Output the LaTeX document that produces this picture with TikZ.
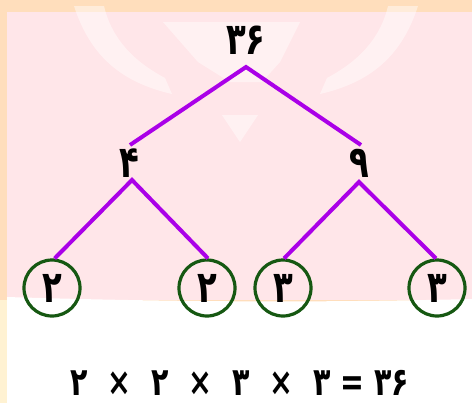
\documentclass[tikz,border=0pt]{standalone}
\usepackage{fontspec}
\usepackage{graphicx}
\newfontfamily\farsi[Script=Arabic]{DejaVu Sans}
\TeXXeTstate=1
\usetikzlibrary{positioning}
\definecolor{banafsh}{RGB}{170,0,232}
\definecolor{sabz}{RGB}{22,88,18}
\definecolor{holo}{RGB}{255,222,188}
\definecolor{zard}{RGB}{255,242,210}
\definecolor{soorati}{RGB}{255,230,233}
\newcommand{\raqam}[1]{\scalebox{0.95}[1.3]{#1}}
\tikzset{
  adad/.style={font=\farsi\bfseries\fontsize{17}{17}\selectfont,inner sep=0pt},
  shakhe/.style={draw=banafsh,line width=2pt},
  dayere/.style={circle,draw=sabz,line width=1.6pt,minimum size=28pt,inner sep=0pt,
                 font=\farsi\bfseries\fontsize{17}{17}\selectfont},
  neshan/.style={white,opacity=.45},
}

\begin{document}
\begin{tikzpicture}[x=0.5pt,y=-0.5pt]
  % zamine
  \fill[holo] (0,0) rectangle (472,403);
  \fill[zard] (0,300) rectangle (7,403);
  \fill[soorati] (7,12) rectangle (472,300);
  \fill[white] (7,297) .. controls (200,303) and (350,302) .. (472,299) -- (472,403) -- (7,403) -- cycle;
  % neshane
  \fill[neshan] (74,6) .. controls (90,55) and (120,82) .. (172,94) -- (165,78)
     .. controls (135,62) and (112,40) .. (104,6) -- cycle;
  \fill[neshan] (418,6) .. controls (402,55) and (372,82) .. (320,94) -- (327,78)
     .. controls (357,62) and (380,40) .. (388,6) -- cycle;
  \fill[neshan] (163,22) -- (300,22) -- (280,62) -- (262,82) -- (230,82) -- (198,62) -- cycle;
  \fill[neshan] (222,115) -- (258,115) -- (240,142) -- cycle;

  % derakht
  \node[adad] (n36) at (246,40) {\raqam{۳۶}};
  \coordinate (r0) at (246,67);
  \coordinate (r1) at (130,145);
  \coordinate (r2) at (361,145);
  \draw[shakhe] (r1) -- (r0) -- (r2);

  \node[adad] (n4) at (129,163) {\raqam{۴}};
  \node[adad] (n9) at (359,163) {\raqam{۹}};
  \coordinate (c4) at (132,180);
  \coordinate (c9) at (359,182);

  \node[dayere] (a1) at (52,288) {\raqam{۲}};
  \node[dayere] (a2) at (207,288) {\raqam{۲}};
  \node[dayere] (b1) at (283,288) {\raqam{۳}};
  \node[dayere] (b2) at (437,288) {\raqam{۳}};

  \draw[shakhe] (a1.85) -- (c4) -- (a2.88);
  \draw[shakhe] (b1.88) -- (c9) -- (b2.92);

  \node[adad,font=\farsi\bfseries\fontsize{15}{15}\selectfont] (zarb) at (240,383)
    {\raqam{\beginR ۳۶ = ۳ \ × \ ۳ \ × \ ۲ \ × \ ۲\endR}};
\end{tikzpicture}
\end{document}
